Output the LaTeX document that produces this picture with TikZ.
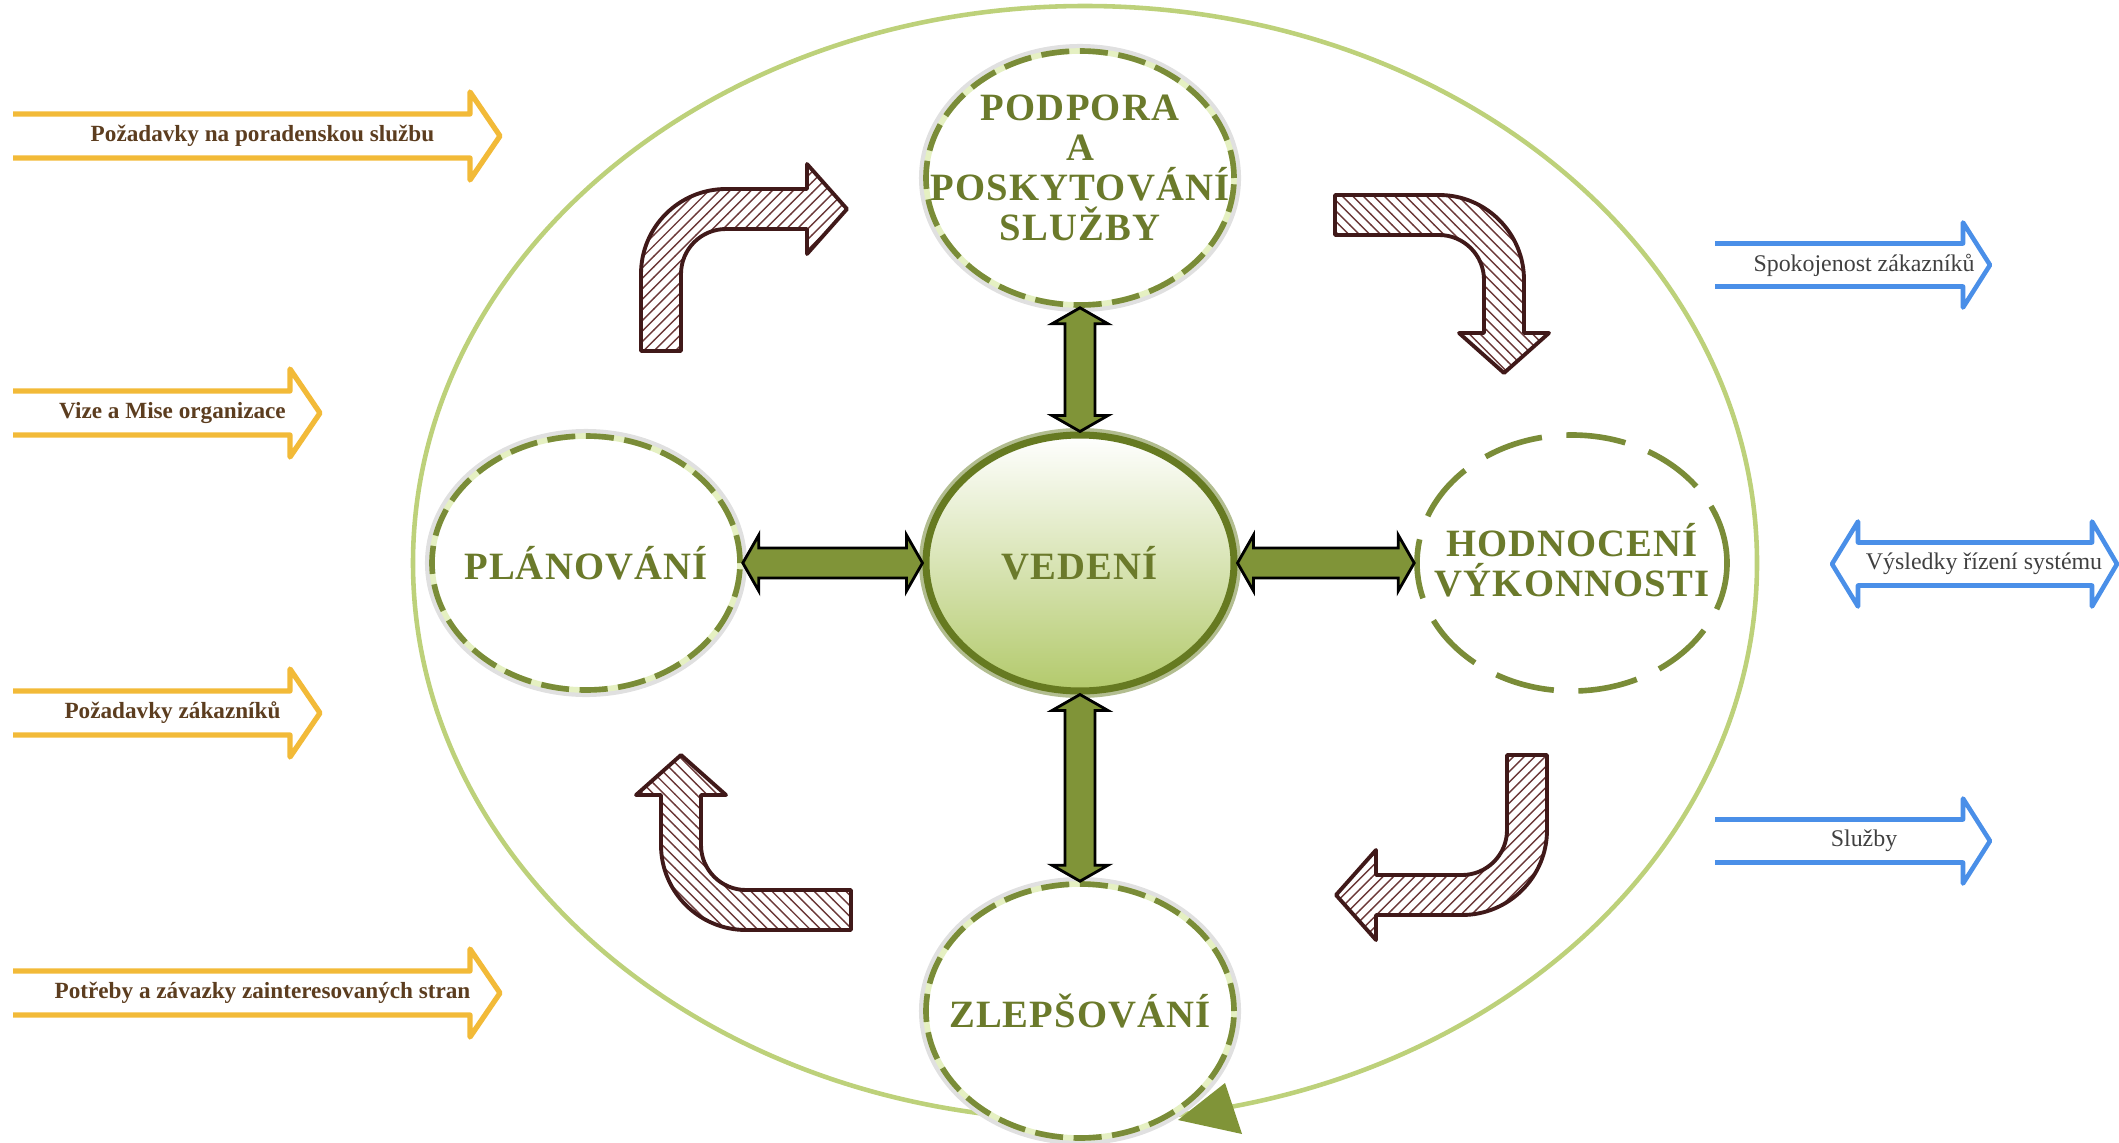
\documentclass[tikz,border=0pt]{standalone}
\usepackage{fontspec}
\setmainfont{Liberation Serif}
\newfontfamily\ringfont[LetterSpace=3]{Liberation Serif}
\usetikzlibrary{positioning}
\usetikzlibrary{calc}
\usetikzlibrary{shapes}
\usetikzlibrary{patterns}
\definecolor{olivetext}{rgb}{0.42,0.48,0.17}
\definecolor{ringgreen}{rgb}{0.48,0.55,0.22}
\definecolor{gapgreen}{rgb}{0.90,0.94,0.76}
\definecolor{biggreen}{rgb}{0.74,0.82,0.48}
\definecolor{fatgreen}{rgb}{0.50,0.58,0.22}
\definecolor{vedfill}{rgb}{0.70,0.79,0.42}
\definecolor{vedborder}{rgb}{0.40,0.48,0.13}
\definecolor{brownline}{rgb}{0.25,0.10,0.10}
\definecolor{hatch}{rgb}{0.42,0.22,0.22}
\definecolor{goldline}{rgb}{0.95,0.73,0.22}
\definecolor{goldtext}{rgb}{0.36,0.24,0.12}
\definecolor{blueline}{rgb}{0.29,0.56,0.91}
\definecolor{bluetext}{rgb}{0.25,0.25,0.25}
\tikzset{
  pics/bent_arrow/.style args={#1,#2,#3}{
     code={
       \draw[line width=1.1pt, brownline, line join=round, pattern=#3, pattern color=hatch]
         (-0.2,0) -- (-0.2,#1-0.65) arc[start angle=180, end angle=90, radius=0.85]
         -- (#2-0.4,#1+0.2) -- (#2-0.4,#1+0.45) -- (#2,#1) -- (#2-0.4,#1-0.45)
         -- (#2-0.4,#1-0.2) -- (0.65,#1-0.2) arc[start angle=90, end angle=180, radius=0.45]
         -- (0.2,0) -- cycle;
     }
  },
  pics/in_arrow/.style args={#1,#2}{
     code={
       \draw[line width=1.5pt, goldline, line join=round] (0,0.22) -- (#1,0.22) -- (#1,0.44)
         -- (#1+0.3,0) -- (#1,-0.44) -- (#1,-0.22) -- (0,-0.22);
       \node[font=\fontsize{6.6}{8}\selectfont\bfseries, text=goldtext] (-txt) at (#1/2+0.21,0) {#2};
     }
  },
  pics/out_arrow/.style args={#1,#2}{
     code={
       \draw[line width=1.3pt, blueline, line join=round] (0,0.215) -- (#1,0.215) -- (#1,0.425)
         -- (#1+0.27,0) -- (#1,-0.425) -- (#1,-0.215) -- (0,-0.215);
       \node[font=\fontsize{6.8}{8}\selectfont, text=bluetext] (-txt) at (#1/2+0.25,0) {#2};
     }
  },
  pics/both_arrow/.style args={#1,#2}{
     code={
       \draw[line width=1.3pt, blueline, line join=round] (0.26,0.215) -- (#1,0.215) -- (#1,0.425)
         -- (#1+0.25,0) -- (#1,-0.425) -- (#1,-0.215) -- (0.26,-0.215) -- (0.26,-0.425)
         -- (0,0) -- (0.26,0.425) -- cycle;
       \node[font=\fontsize{6.8}{8}\selectfont, text=bluetext] (-txt) at (#1/2+0.22,0) {#2};
     }
  }
}
\newcommand\fatlink[2]{%
  \coordinate (fa) at ($(#1)!0.16cm!(#2)$);
  \coordinate (fb) at ($(#2)!0.16cm!(#1)$);
  \draw[fatarrow] (#1) -- ($(fa)!0.28cm!90:(#2)$) -- ($(fa)!0.15cm!90:(#2)$)
    -- ($(fb)!0.15cm!-90:(#1)$) -- ($(fb)!0.28cm!-90:(#1)$) -- (#2)
    -- ($(fb)!0.28cm!90:(#1)$) -- ($(fb)!0.15cm!90:(#1)$)
    -- ($(fa)!0.15cm!-90:(#2)$) -- ($(fa)!0.28cm!-90:(#2)$) -- cycle;
}

\begin{document}
\begin{tikzpicture}
    [ringtext/.style={font=\ringfont\bfseries\fontsize{11}{11.4}\selectfont, text=olivetext, align=center},
    glowring/.style={ellipse, minimum width=3.08cm, minimum height=2.54cm, inner sep=0pt, fill=white,
      preaction={draw=black!12, line width=4pt}, draw=gapgreen, line width=1.6pt,
      postaction={draw=ringgreen, dash pattern=on 8pt off 3pt}},
    dashring/.style={ellipse, minimum width=3.10cm, minimum height=2.56cm, inner sep=0pt, fill=white,
      draw=ringgreen, line width=1.6pt, dash pattern=on 17pt off 7pt},
    core/.style={ellipse, minimum width=3.08cm, minimum height=2.56cm, inner sep=0pt,
      top color=white, bottom color=vedfill, draw=vedborder, line width=2pt,
      preaction={draw=vedborder!50, line width=4pt}},
    bigring/.style={ellipse, minimum width=13.44cm, minimum height=11.14cm, draw=biggreen, line width=1.3pt},
    fatarrow/.style={fill=fatgreen, draw=black, line width=0.8pt, line join=miter}]
    \useasboundingbox (0,0) rectangle (21.19,11.42);

    % outer loop
    \node[bigring] (loop) at (10.85,5.79) {};

    % the five stages
    \node[glowring, label={[ringtext, yshift=0.1cm]center:{PODPORA\\A\\POSKYTOVÁNÍ\\SLUŽBY}}] (podpora) at (10.80,9.64) {};
    \node[glowring, label={[ringtext]center:PLÁNOVÁNÍ}] (planovani) at (5.86,5.79) {};
    \node[core, label={[ringtext]center:VEDENÍ}] (vedeni) at (10.80,5.79) {};
    \node[dashring, label={[ringtext, yshift=0.03cm]center:{HODNOCENÍ\\VÝKONNOSTI}}] (hodnoceni) at (15.72,5.79) {};
    \node[glowring, label={[ringtext]center:ZLEPŠOVÁNÍ}] (zlepsovani) at (10.80,1.31) {};

    \fill[fatgreen] (11.78,0.22) -- (12.25,0.59) -- (12.42,0.08) -- cycle;

    % links to the centre
    \fatlink{podpora.south}{vedeni.north}
    \fatlink{vedeni.south}{zlepsovani.north}
    \fatlink{planovani.east}{vedeni.west}
    \fatlink{vedeni.east}{hodnoceni.west}

    % cycle arrows
    \pic at (6.61,7.91) {bent_arrow={1.42,1.86,north east lines}};
    \pic[rotate=-90] at (13.35,9.27) {bent_arrow={1.69,1.58,north west lines}};
    \pic[rotate=180] at (15.27,3.87) {bent_arrow={1.40,1.91,north east lines}};
    \pic[rotate=90] at (8.51,2.32) {bent_arrow={1.70,1.55,north west lines}};

    % inputs
    \pic (in1) at (0.13,10.06) {in_arrow={4.57,Požadavky na poradenskou službu}};
    \pic (in2) at (0.13,7.29) {in_arrow={2.77,Vize a Mise organizace}};
    \pic (in3) at (0.13,4.29) {in_arrow={2.77,Požadavky zákazníků}};
    \pic (in4) at (0.13,1.49) {in_arrow={4.57,Potřeby a závazky zainteresovaných stran}};

    % outputs
    \pic (out1) at (17.15,8.77) {out_arrow={2.48,Spokojenost zákazníků}};
    \pic (out2) at (18.32,5.78) {both_arrow={2.60,Výsledky řízení systému}};
    \pic (out3) at (17.15,3.01) {out_arrow={2.48,Služby}};
\end{tikzpicture}
\end{document}
